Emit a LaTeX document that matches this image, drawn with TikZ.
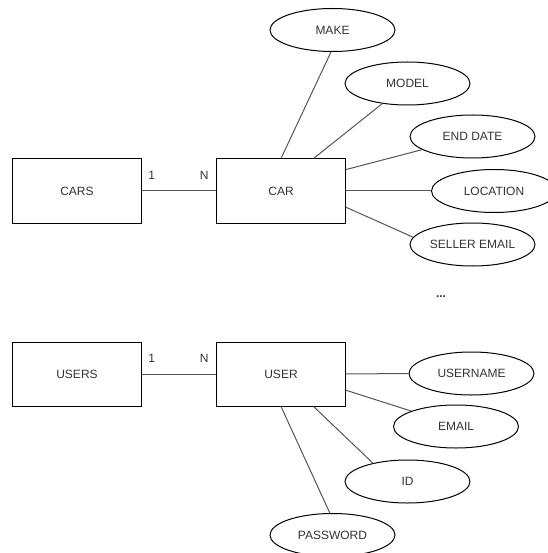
\documentclass[tikz,border=0pt]{standalone}
\usepackage{fontspec}
\setmainfont{Liberation Sans}
\usetikzlibrary{shapes.geometric}
\usetikzlibrary{calc}
\definecolor{inkgray}{HTML}{333333}
\definecolor{linegray}{HTML}{555555}
\tikzset{entity/.style = {draw = black, line width = 1pt, minimum width = 129pt,
                          minimum height = 64pt, inner sep = 0, text = inkgray}}
\tikzset{attr/.style = {ellipse, draw = black, line width = 1pt, minimum width = 125pt,
                        minimum height = 43pt, inner sep = 0, text = inkgray}}
\tikzset{link/.style = {draw = linegray, line width = 1pt}}
\tikzset{card/.style = {inner sep = 0, text = inkgray}}

\begin{document}
\begin{tikzpicture}[x = 1pt, y = -1pt, font = \fontsize{12pt}{14pt}\selectfont]
    \useasboundingbox (0, 0) rectangle (547, 553);

    % cars and their attributes
    \node [entity] (cars) at (77, 191) {CARS};
    \node [entity] (car) at (281, 191) {CAR};
    \draw [link] (cars) -- (car) node [card, pos=0.13, above=11.5pt] (carsone) {1} node [card, pos=0.84, above=11.5pt] (carsmany) {N};

    \node [attr] (make) at (332.5, 30) {MAKE};
    \node [attr] (model) at (407.5, 83.5) {MODEL};
    \node [attr] (enddate) at (472.5, 136.5) {END DATE};
    \node [attr] (location) at (494, 191) {LOCATION};
    \node [attr] (seller) at (472.5, 244.5) {SELLER EMAIL};
    \draw [link] (car.north) -- (make.266);
    \draw [link] ($(car.north west)!0.75!(car.north east)$) -- (model);
    \draw [link] ($(car.north east)!0.17!(car.south east)$) -- (enddate);
    \draw [link] (car) -- (location);
    \draw [link] ($(car.north east)!0.75!(car.south east)$) -- (seller.173);

    \node [card] (more) at (441, 297) {\textbf{...}};

    % users and their attributes
    \node [entity] (users) at (77, 374) {USERS};
    \node [entity] (user) at (281, 374) {USER};
    \draw [link] (users) -- (user) node [card, pos=0.13, above=11.5pt] (usersone) {1} node [card, pos=0.84, above=11.5pt] (usersmany) {N};

    \node [attr] (username) at (471.5, 373.5) {USERNAME};
    \node [attr] (email) at (456, 426.5) {EMAIL};
    \node [attr] (id) at (407.5, 481.5) {ID};
    \node [attr] (password) at (332.5, 535) {PASSWORD};
    \draw [link] (user) -- (username);
    \draw [link] ($(user.north east)!0.75!(user.south east)$) -- (email.161);
    \draw [link] ($(user.south west)!0.75!(user.south east)$) -- (id.152);
    \draw [link] (user.south) -- (password.97);
  \end{tikzpicture}
\end{document}
